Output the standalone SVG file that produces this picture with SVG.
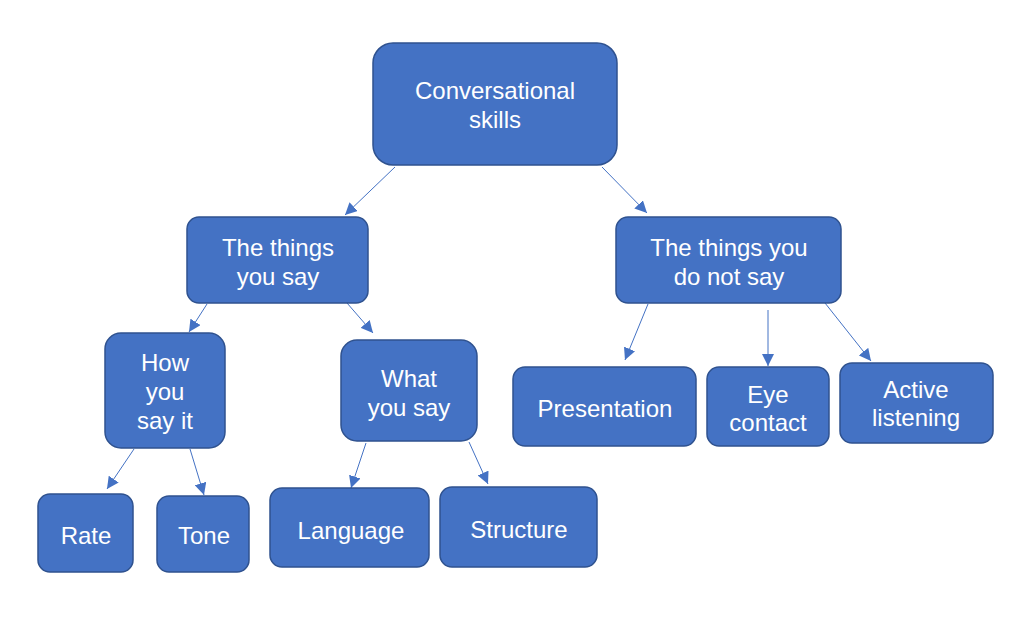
<svg xmlns="http://www.w3.org/2000/svg" width="1024" height="621" viewBox="0 0 1024 621">
<defs>
<style>
.box{fill:#4472C4;stroke:#2F528F;stroke-width:1.5}
.t{fill:#fff;font-family:"Liberation Sans",Arial,sans-serif;font-size:24px;text-anchor:middle}
.c{stroke:#4472C4;stroke-width:1;fill:none;marker-end:url(#ah)}
</style>
<marker id="ah" viewBox="0 0 10 10" refX="10" refY="5" markerWidth="12" markerHeight="12" markerUnits="userSpaceOnUse" orient="auto">
<path d="M0,0 L10,5 L0,10 Z" fill="#4472C4"/>
</marker>
</defs>
<rect width="1024" height="621" fill="#fff"/>
<g id="connectors">
<line class="c" x1="395" y1="167" x2="345" y2="215"/>
<line class="c" x1="602" y1="167" x2="647" y2="213"/>
<line class="c" x1="207" y1="304" x2="189" y2="332"/>
<line class="c" x1="347" y1="303" x2="373" y2="333"/>
<line class="c" x1="648" y1="304" x2="625" y2="360"/>
<line class="c" x1="768" y1="310" x2="768" y2="366"/>
<line class="c" x1="825" y1="303" x2="871" y2="361"/>
<line class="c" x1="134" y1="449" x2="107" y2="489"/>
<line class="c" x1="190" y1="449" x2="204" y2="495"/>
<line class="c" x1="366" y1="443" x2="351" y2="488"/>
<line class="c" x1="469" y1="442" x2="488" y2="484"/>
</g>
<g id="root"><rect class="box" x="373" y="43" width="244" height="122" rx="20"/>
<text class="t" x="495" y="99">Conversational</text><text class="t" x="495" y="128">skills</text></g>
<g id="say"><rect class="box" x="187" y="217" width="181" height="86" rx="12"/>
<text class="t" x="278" y="256">The things</text><text class="t" x="278" y="285">you say</text></g>
<g id="notsay"><rect class="box" x="616" y="217" width="225" height="86" rx="12"/>
<text class="t" x="729" y="256">The things you</text><text class="t" x="729" y="285">do not say</text></g>
<g id="how"><rect class="box" x="105" y="333" width="120" height="115" rx="16"/>
<text class="t" x="165" y="371">How</text><text class="t" x="165" y="400">you</text><text class="t" x="165" y="429">say it</text></g>
<g id="what"><rect class="box" x="341" y="340" width="136" height="101" rx="16"/>
<text class="t" x="409" y="387">What</text><text class="t" x="409" y="416">you say</text></g>
<g id="presentation"><rect class="box" x="513" y="367" width="183" height="79" rx="12"/>
<text class="t" x="605" y="417">Presentation</text></g>
<g id="eye"><rect class="box" x="707" y="367" width="122" height="79" rx="12"/>
<text class="t" x="768" y="403">Eye</text><text class="t" x="768" y="431">contact</text></g>
<g id="active"><rect class="box" x="840" y="363" width="153" height="80" rx="12"/>
<text class="t" x="916" y="398">Active</text><text class="t" x="916" y="426">listening</text></g>
<g id="rate"><rect class="box" x="38" y="494" width="95" height="78" rx="12"/>
<text class="t" x="86" y="544">Rate</text></g>
<g id="tone"><rect class="box" x="157" y="496" width="92" height="76" rx="12"/>
<text class="t" x="204" y="544">Tone</text></g>
<g id="language"><rect class="box" x="270" y="488" width="159" height="79" rx="12"/>
<text class="t" x="351" y="539">Language</text></g>
<g id="structure"><rect class="box" x="440" y="487" width="157" height="80" rx="12"/>
<text class="t" x="519" y="538">Structure</text></g>
</svg>
